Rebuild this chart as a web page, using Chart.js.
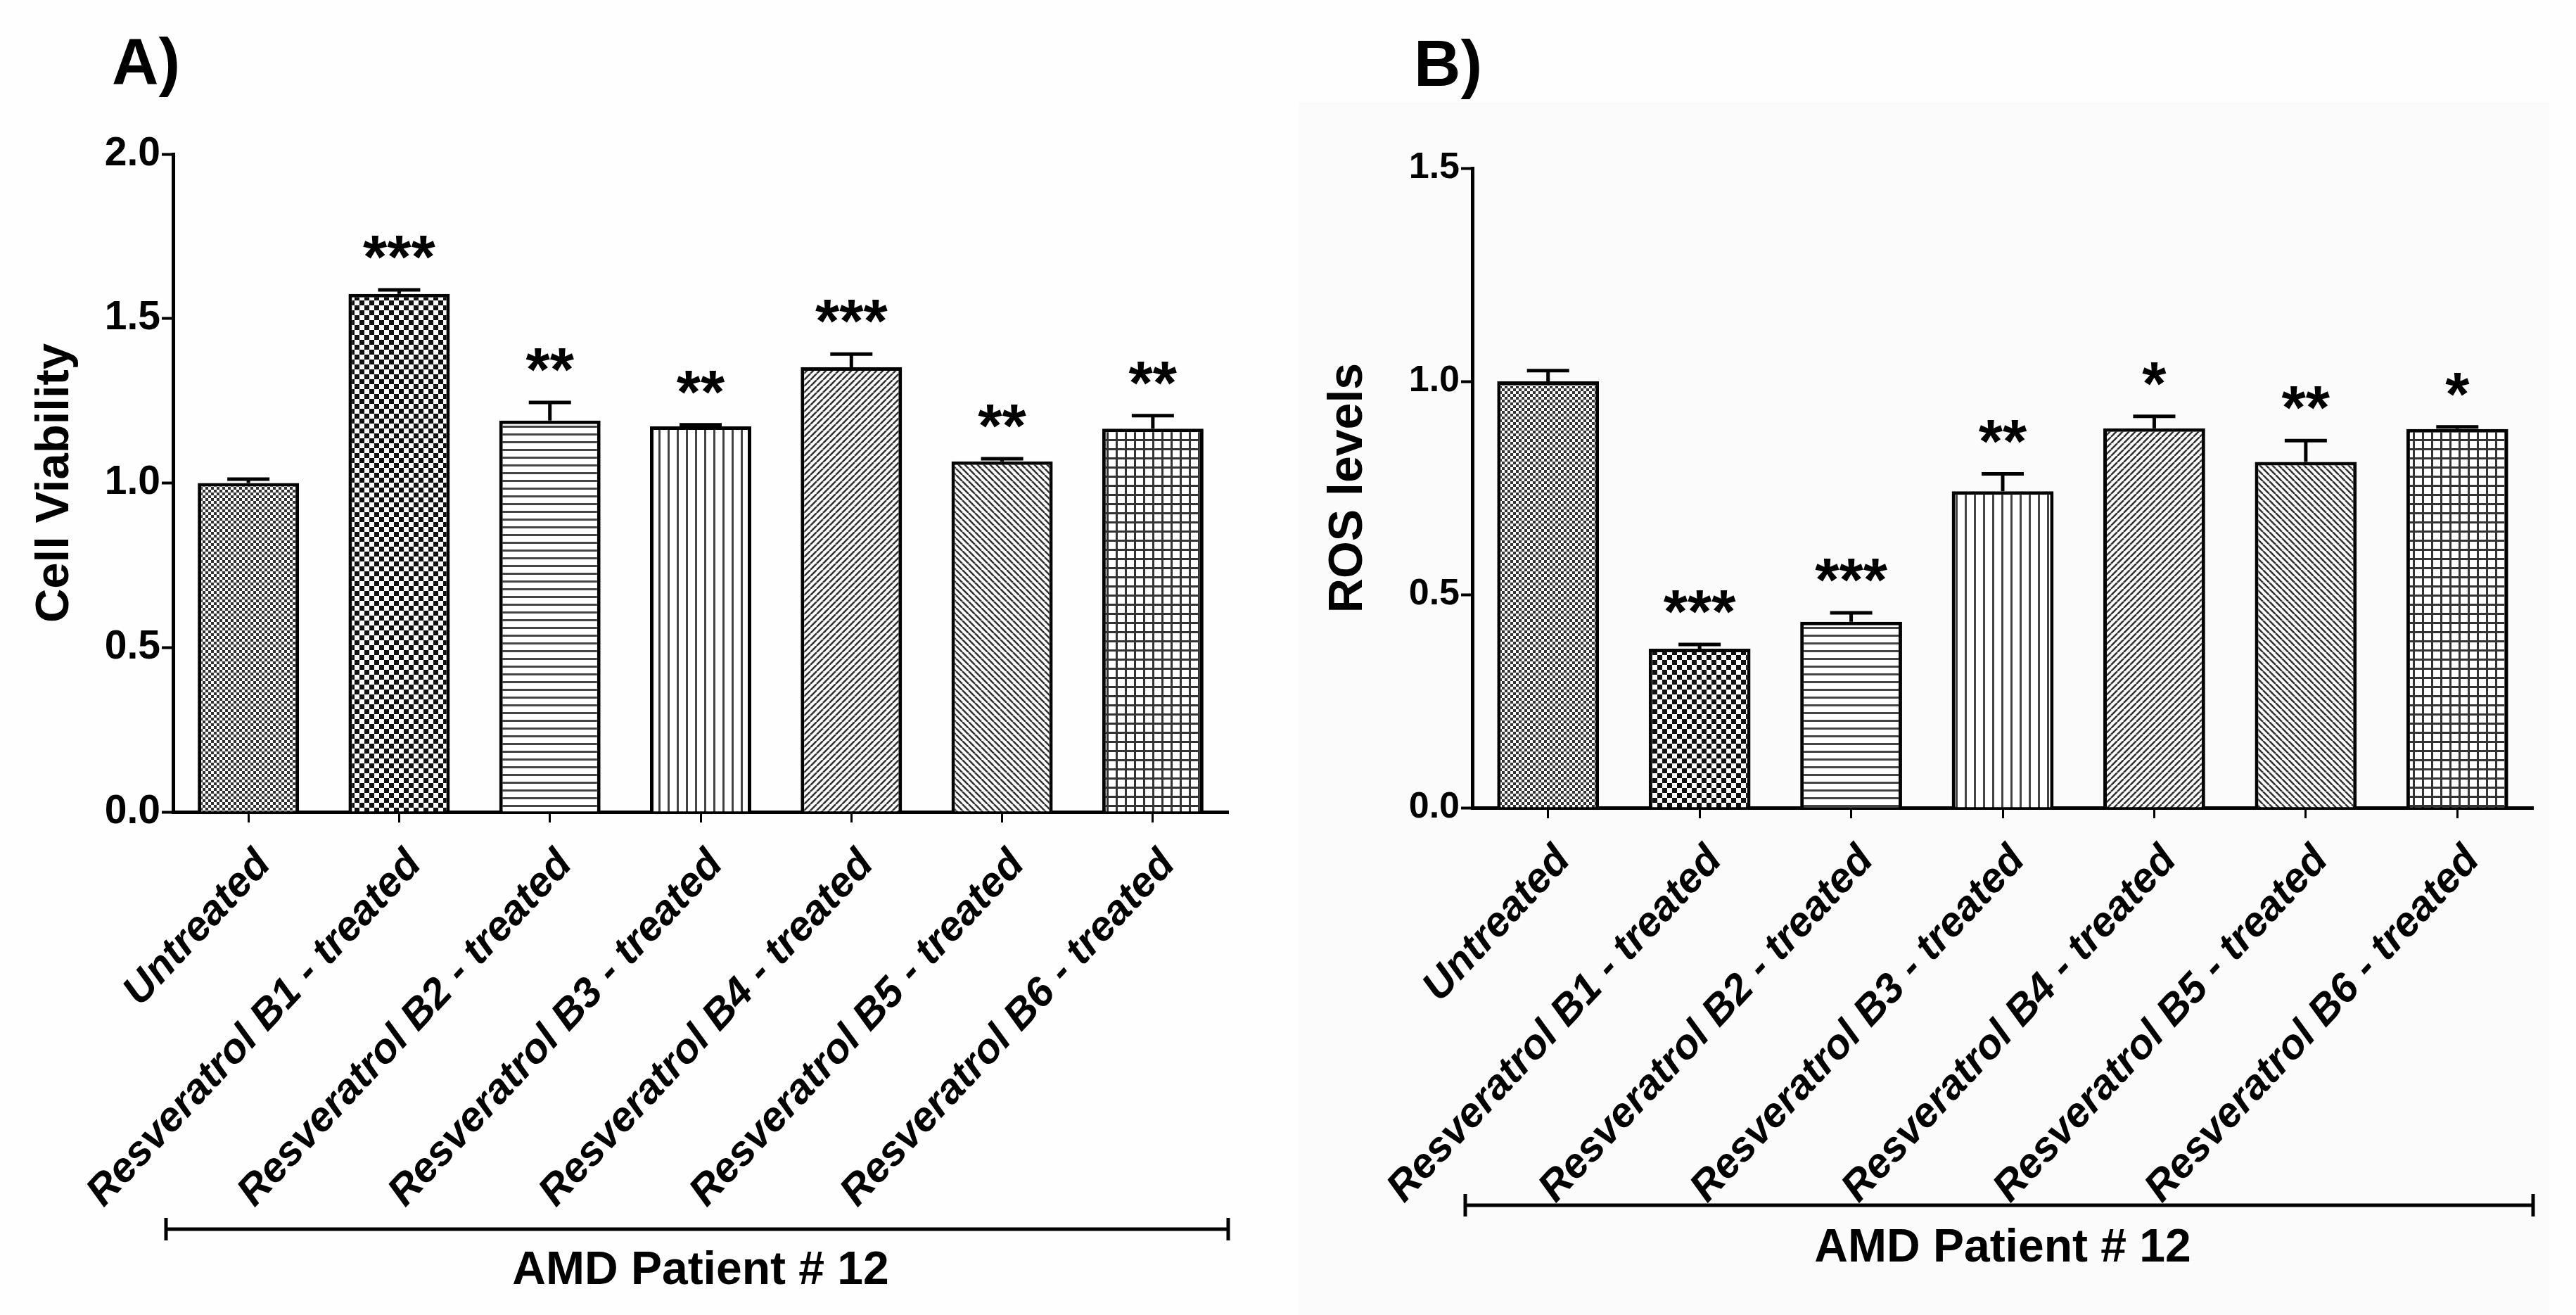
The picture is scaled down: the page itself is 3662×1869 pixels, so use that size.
<!DOCTYPE html>
<html>
<head>
<meta charset="utf-8">
<script src="https://cdn.jsdelivr.net/npm/chart.js@4.4.1/dist/chart.umd.min.js"></script>
<style>
    html, body { margin: 0; padding: 0; background: #fefefe; }
    body { width: 3662px; height: 1869px; position: relative; overflow: hidden; font-family: 'Liberation Sans', Arial, sans-serif; }
    .panel { position: absolute; top: 0; width: 1831px; height: 1869px; }
    .tag { position: absolute; font-weight: bold; font-size: 92px; line-height: 92px; color: #000; }
    #shade { position: absolute; left: 1845px; top: 145px; width: 1779px; height: 1724px; background: #fbfbfb; }
</style>
</head>
<body>
<div id="shade"></div>
<div class="tag" style="left:159px; top:41px;">A)</div>
<div class="tag" style="left:2010px; top:44px;">B)</div>
<div class="panel" style="left:0;"><canvas id="chartA" width="1831" height="1869"></canvas></div>
<div class="panel" style="left:1831px;"><canvas id="chartB" width="1831" height="1869"></canvas></div>
<script>
// categories (same for both panels)
const groups = [
    'Untreated',
    'Resveratrol B1 - treated',
    'Resveratrol B2 - treated',
    'Resveratrol B3 - treated',
    'Resveratrol B4 - treated',
    'Resveratrol B5 - treated',
    'Resveratrol B6 - treated'
];
const groupTitle = 'AMD Patient # 12';

// A) cell viability
const viability = [1.00, 1.575, 1.19, 1.172, 1.352, 1.066, 1.165];
const viabilityErr = [0.012, 0.012, 0.055, 0.005, 0.04, 0.008, 0.04];
const viabilityStars = ['', '***', '**', '**', '***', '**', '**'];
const viabilityTicks = [0, 0.5, 1.0, 1.5, 2.0];

// B) ROS levels
const ros = [1.00, 0.373, 0.436, 0.742, 0.89, 0.811, 0.888];
const rosErr = [0.025, 0.01, 0.021, 0.041, 0.028, 0.05, 0.005];
const rosStars = ['', '***', '***', '**', '*', '**', '*'];
const rosTicks = [0, 0.5, 1.0, 1.5];

const FONT = "'Liberation Sans', Arial, sans-serif";
const H = 1869;

// hatch fills, one per bar
function makePattern(kind) {
    const c = document.createElement('canvas');
    const sizes = { fine: 8, check: 14, hlines: 11, vlines: 13, up: 9, down: 9, grid: 13 };
    const s = sizes[kind];
    c.width = s; c.height = s;
    const g = c.getContext('2d');
    g.fillStyle = '#ffffff';
    g.fillRect(0, 0, s, s);
    g.fillStyle = '#222';
    g.strokeStyle = '#333';
    if (kind === 'fine') {
        g.fillStyle = '#333';
        g.fillRect(0, 0, 4, 4); g.fillRect(4, 4, 4, 4);
    } else if (kind === 'check') {
        g.fillStyle = '#111';
        g.fillRect(0, 0, 7, 7); g.fillRect(7, 7, 7, 7);
    } else if (kind === 'hlines') {
        g.fillStyle = '#444';
        g.fillRect(0, 0, s, 3);
    } else if (kind === 'vlines') {
        g.fillStyle = '#444';
        g.fillRect(0, 0, 3, s);
    } else if (kind === 'up' || kind === 'down') {
        g.lineWidth = 2.6;
        g.beginPath();
        for (let k = -1; k <= 1; k++) {
            if (kind === 'up') { g.moveTo(k * s, s); g.lineTo(k * s + s, 0); }
            else { g.moveTo(k * s, 0); g.lineTo(k * s + s, s); }
        }
        g.stroke();
    } else if (kind === 'grid') {
        g.fillStyle = '#333';
        g.fillRect(0, 0, s, 3); g.fillRect(0, 0, 3, s);
    }
    return g.createPattern(c, 'repeat');
}
const fills = ['fine', 'check', 'hlines', 'vlines', 'up', 'down', 'grid'].map(makePattern);

// error bars (upper only), significance stars and the group bracket
function annotator(values, errors, stars, bracketY) {
    return {
        id: 'annotator',
        afterDatasetsDraw(chart) {
            const ctx = chart.ctx;
            const y = chart.scales.y;
            const meta = chart.getDatasetMeta(0);
            ctx.save();
            ctx.strokeStyle = '#000';
            ctx.fillStyle = '#000';
            ctx.lineWidth = 5;
            values.forEach((v, i) => {
                const bx = meta.data[i].x;
                const y0 = y.getPixelForValue(v);
                const y1 = y.getPixelForValue(v + errors[i]);
                ctx.beginPath();
                ctx.moveTo(bx, y0); ctx.lineTo(bx, y1);
                ctx.moveTo(bx - 30, y1); ctx.lineTo(bx + 30, y1);
                ctx.stroke();
                if (stars[i]) {
                    ctx.font = 'bold 88px ' + FONT;
                    ctx.textAlign = 'center';
                    ctx.textBaseline = 'alphabetic';
                    ctx.fillText(stars[i], bx, y1 - 17);
                }
            });
            const a = chart.chartArea;
            ctx.beginPath();
            ctx.moveTo(a.left - 10, bracketY); ctx.lineTo(a.right, bracketY);
            ctx.moveTo(a.left - 10, bracketY - 16); ctx.lineTo(a.left - 10, bracketY + 16);
            ctx.moveTo(a.right, bracketY - 16); ctx.lineTo(a.right, bracketY + 16);
            ctx.stroke();
            ctx.restore();
        }
    };
}

function buildChart(id, cfg) {
    const ticks = cfg.ticks;
    return new Chart(document.getElementById(id), {
        type: 'bar',
        data: {
            labels: groups,
            datasets: [{
                data: cfg.values,
                backgroundColor: fills,
                borderColor: '#000',
                borderWidth: 5,
                barPercentage: 0.672,
                categoryPercentage: 1.0
            }]
        },
        plugins: [annotator(cfg.values, cfg.errors, cfg.stars, cfg.bracketY)],
        options: {
            responsive: false,
            devicePixelRatio: 1,
            animation: false,
            layout: { padding: { left: cfg.padLeft, top: cfg.top, right: cfg.padRight, bottom: 0 } },
            plugins: { legend: { display: false }, tooltip: { enabled: false } },
            scales: {
                x: {
                    grid: { offset: false, drawOnChartArea: false, tickLength: 15, tickWidth: 3, tickColor: '#000' },
                    border: { color: '#000', width: 5 },
                    ticks: {
                        autoSkip: false, minRotation: 47, maxRotation: 47,
                        padding: 26, labelOffset: 22, color: '#000',
                        font: { family: FONT, size: 59, weight: 'bold', style: 'italic' }
                    },
                    title: {
                        display: true, text: groupTitle, color: '#000',
                        font: { family: FONT, size: 66, weight: 'bold' },
                        padding: { top: 0, bottom: cfg.titleBottom }
                    },
                    afterFit(scale) {
                        scale.height = H - cfg.bottom;
                        scale.paddingLeft = 0; scale.paddingRight = 0;
                    }
                },
                y: {
                    min: 0, max: ticks[ticks.length - 1],
                    afterBuildTicks(scale) { scale.ticks = ticks.map(v => ({ value: v })); },
                    grid: { drawOnChartArea: false, tickLength: 16, tickWidth: 4, tickColor: '#000' },
                    border: { color: '#000', width: 5 },
                    ticks: {
                        padding: 2, color: '#000',
                        callback: v => Number(v).toFixed(1),
                        font: { family: FONT, size: cfg.tickSize, weight: 'bold' }
                    },
                    title: {
                        display: true, text: cfg.yTitle, color: '#000',
                        font: { family: FONT, size: cfg.yTitleSize, weight: 'bold' },
                        padding: { top: 4, bottom: 4 }
                    },
                    afterFit(scale) {
                        scale.width = cfg.yWidth;
                        scale.paddingTop = 0; scale.paddingBottom = 0;
                    }
                }
            }
        }
    });
}

buildChart('chartA', {
    values: viability, errors: viabilityErr, stars: viabilityStars, ticks: viabilityTicks,
    yTitle: 'Cell Viability', yTitleSize: 67, tickSize: 57,
    padLeft: 34, yWidth: 212, padRight: 85, top: 219, bottom: 1154,
    titleBottom: 23, bracketY: 1747
});

buildChart('chartB', {
    values: ros, errors: rosErr, stars: rosStars, ticks: rosTicks,
    yTitle: 'ROS levels', yTitleSize: 68, tickSize: 52,
    padLeft: 41, yWidth: 221, padRight: 61, top: 239, bottom: 1148,
    titleBottom: 55, bracketY: 1713
});
</script>
</body>
</html>
